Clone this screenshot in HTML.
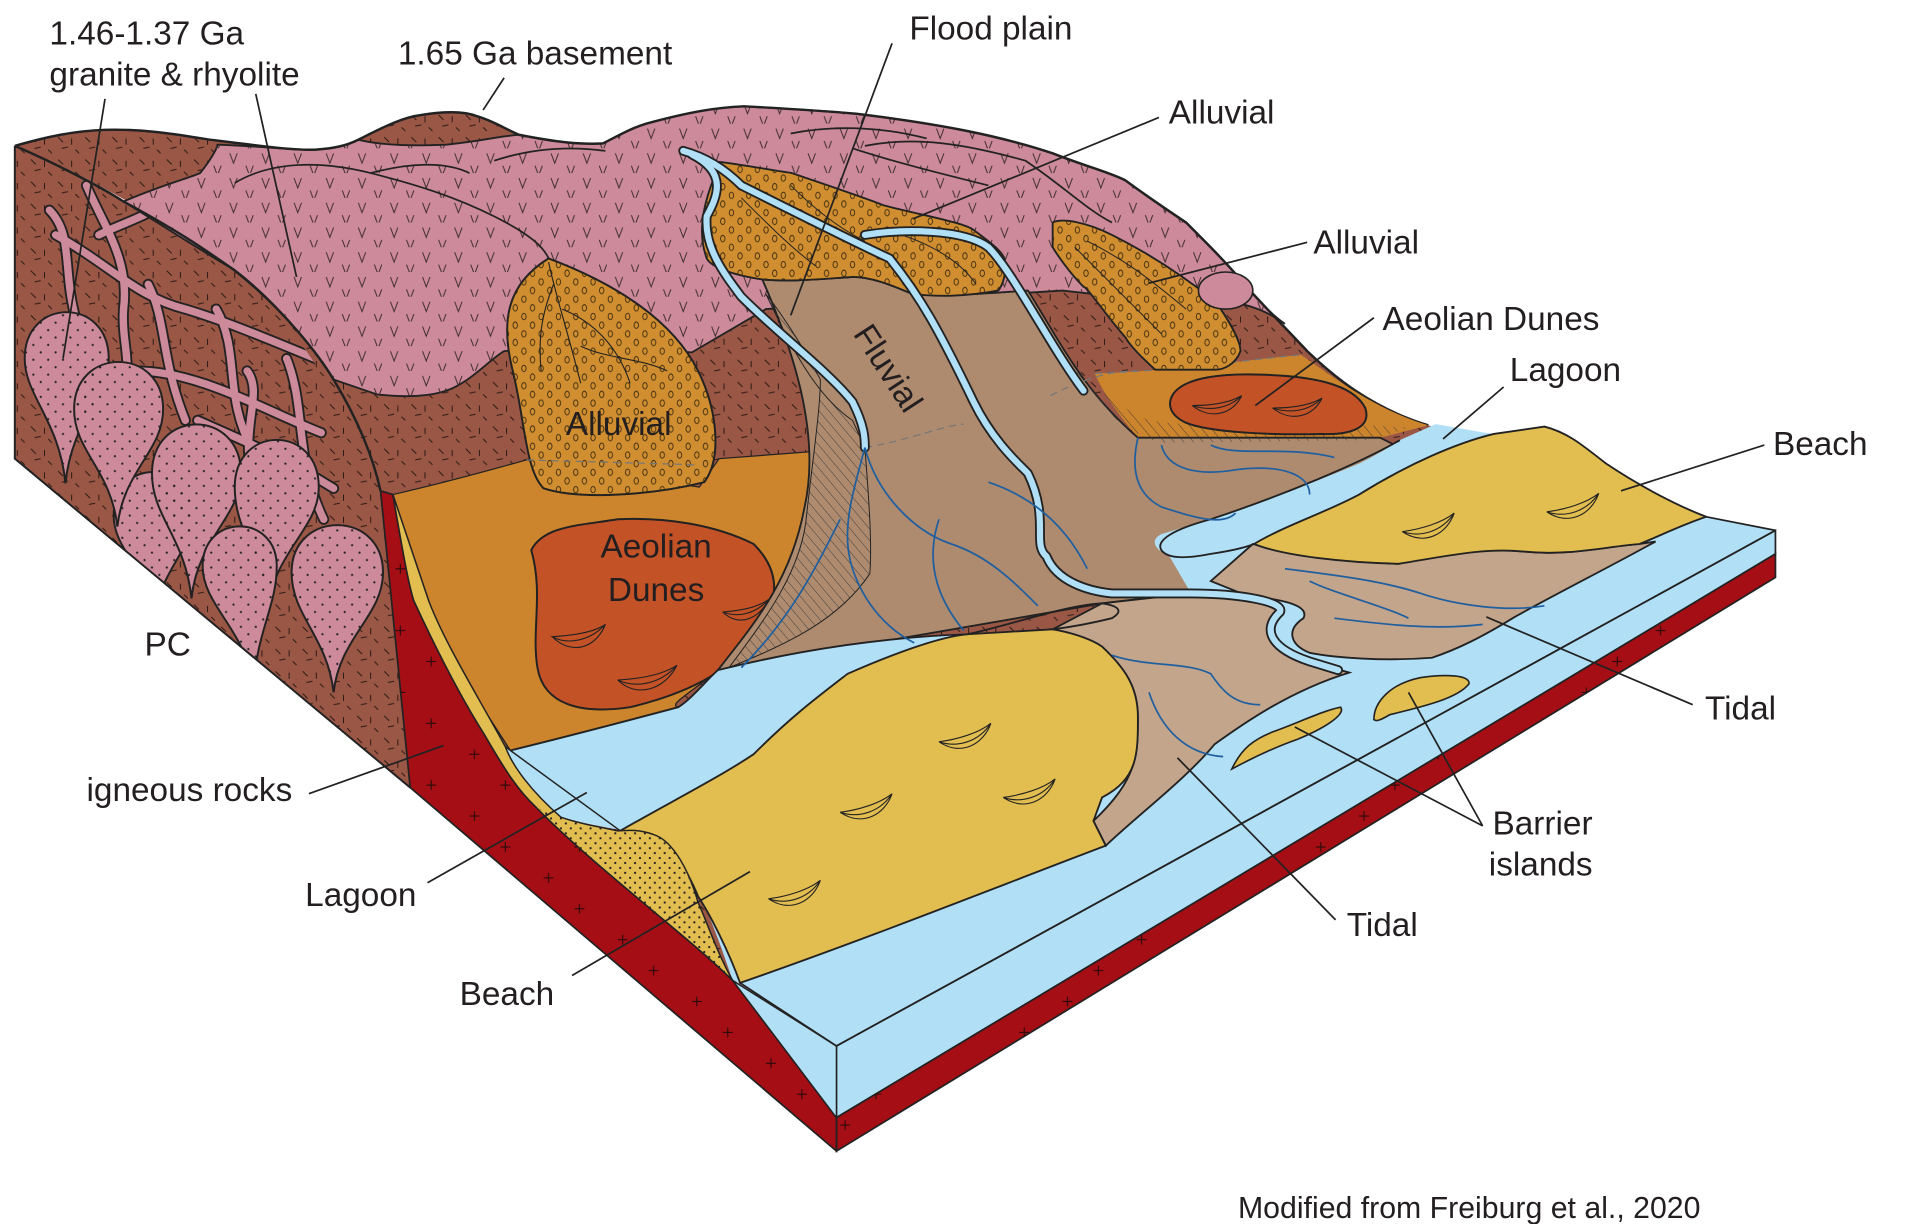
<!DOCTYPE html>
<html><head><meta charset="utf-8"><style>
html,body{margin:0;padding:0;background:#fff;width:1920px;height:1224px;overflow:hidden}
svg{display:block}
text{font-family:"Liberation Sans",Arial,sans-serif;fill:#231f20}
</style></head><body>
<svg width="1920" height="1224" viewBox="0 0 1554 990" preserveAspectRatio="none" xmlns="http://www.w3.org/2000/svg">
<defs>
<pattern id="vp" width="26" height="20" patternUnits="userSpaceOnUse">
<path d="M4,4 L7,12 L10,4 M17,14 L20,22 L23,14" fill="none" stroke="#3a2a2a" stroke-width="0.8"/>
</pattern>
<pattern id="tk" width="22" height="18" patternUnits="userSpaceOnUse">
<path d="M3,3 L7,7 M14,4 L14,9 M6,12 L11,11 M17,13 L20,16" fill="none" stroke="#2a1a14" stroke-width="0.8"/>
</pattern>
<pattern id="al" width="14" height="14" patternUnits="userSpaceOnUse">
<ellipse cx="4" cy="4" rx="1.8" ry="2.6" fill="none" stroke="#3a2a10" stroke-width="0.7"/>
<ellipse cx="11" cy="11" rx="1.8" ry="2.6" fill="none" stroke="#3a2a10" stroke-width="0.7"/>
</pattern>
<pattern id="gd" width="12" height="12" patternUnits="userSpaceOnUse">
<circle cx="3" cy="3" r="0.9" fill="#222"/><circle cx="9" cy="9" r="0.9" fill="#222"/>
</pattern>
<pattern id="sd" width="8" height="8" patternUnits="userSpaceOnUse">
<circle cx="2" cy="2" r="0.9" fill="#222"/><circle cx="6" cy="6" r="0.9" fill="#222"/>
</pattern>
<pattern id="ht" width="6" height="6" patternUnits="userSpaceOnUse" patternTransform="rotate(-40)">
<line x1="0" y1="0" x2="0" y2="6" stroke="#333" stroke-width="0.7"/>
</pattern>
<pattern id="rp" width="60" height="50" patternUnits="userSpaceOnUse">
<path d="M20,10 h8 M24,6 v8 M45,35 h8 M49,31 v8" stroke="#2a0a0a" stroke-width="0.9"/>
</pattern>
</defs>

<!-- left face -->
<path d="M12,118 C40,130 80,150 100,163 C150,190 170,205 189,218 C230,250 260,290 270,307 C290,340 302,370 308,397 L332,637 L12,371 Z" fill="#9b5746"/>
<path d="M12,118 C40,130 80,150 100,163 C150,190 170,205 189,218 C230,250 260,290 270,307 C290,340 302,370 308,397 L332,637 L12,371 Z" fill="url(#tk)"/>
<!-- veins -->
<g fill="none" stroke-linecap="round">
<g stroke="#222" stroke-width="9">
<path d="M40,170 C60,190 50,220 62,260"/><path d="M70,150 C85,185 105,210 100,250 C98,280 110,300 96,320"/>
<path d="M45,190 C90,215 110,240 150,250 C190,262 230,280 280,300"/>
<path d="M120,230 C135,260 130,290 150,340"/><path d="M110,300 C160,300 210,330 260,350"/>
<path d="M175,250 C195,285 180,320 205,365"/><path d="M232,290 C248,330 238,370 262,420"/>
<path d="M160,340 C205,360 230,370 270,395"/><path d="M200,300 C215,320 190,350 208,400"/>
<path d="M80,190 C100,180 120,175 140,160"/>
</g>
<g stroke="#cd8a9b" stroke-width="6">
<path d="M40,170 C60,190 50,220 62,260"/><path d="M70,150 C85,185 105,210 100,250 C98,280 110,300 96,320"/>
<path d="M45,190 C90,215 110,240 150,250 C190,262 230,280 280,300"/>
<path d="M120,230 C135,260 130,290 150,340"/><path d="M110,300 C160,300 210,330 260,350"/>
<path d="M175,250 C195,285 180,320 205,365"/><path d="M232,290 C248,330 238,370 262,420"/>
<path d="M160,340 C205,360 230,370 270,395"/><path d="M200,300 C215,320 190,350 208,400"/>
<path d="M80,190 C100,180 120,175 140,160"/>
</g>
</g>
<!-- granite blobs -->
<g fill="#cd8a9b" stroke="#222" stroke-width="1.6">
<path d="M20,290 C20,240 88,240 88,290 C88,320 58,340 53,391 C48,340 20,320 20,290 Z"/>
<path d="M92,417 C92,370 156,370 156,417 C156,445 130,460 125,500 C120,460 92,445 92,417 Z"/>
<path d="M60,331 C60,280 132,280 132,331 C132,365 100,380 95,426 C90,380 60,365 60,331 Z"/>
<path d="M123,383 C123,330 195,330 195,383 C195,418 160,435 155,484 C150,435 123,418 123,383 Z"/>
<path d="M190,394 C190,343 258,343 258,394 C258,428 222,445 216,495 C210,445 190,428 190,394 Z"/>
<path d="M164,458 C164,415 224,415 224,458 C224,490 208,510 205,556 C200,510 164,490 164,458 Z"/>
<path d="M236,463 C236,412 310,412 310,463 C310,498 275,515 270,560 C265,515 236,498 236,463 Z"/>
</g>
<g fill="url(#gd)">
<path d="M20,290 C20,240 88,240 88,290 C88,320 58,340 53,391 C48,340 20,320 20,290 Z"/>
<path d="M92,417 C92,370 156,370 156,417 C156,445 130,460 125,500 C120,460 92,445 92,417 Z"/>
<path d="M60,331 C60,280 132,280 132,331 C132,365 100,380 95,426 C90,380 60,365 60,331 Z"/>
<path d="M123,383 C123,330 195,330 195,383 C195,418 160,435 155,484 C150,435 123,418 123,383 Z"/>
<path d="M190,394 C190,343 258,343 258,394 C258,428 222,445 216,495 C210,445 190,428 190,394 Z"/>
<path d="M164,458 C164,415 224,415 224,458 C224,490 208,510 205,556 C200,510 164,490 164,458 Z"/>
<path d="M236,463 C236,412 310,412 310,463 C310,498 275,515 270,560 C265,515 236,498 236,463 Z"/>
</g>
<!-- cover below bottom edge -->
<path d="M0,371 L12,371 L340,644 L340,700 L0,700 Z" fill="#fff"/>
<path d="M12,118 L12,371 L332,637" fill="none" stroke="#222" stroke-width="1.6"/>

<!-- land base brown -->
<path id="land" d="M12,118 C40,110 60,106 85,105 C120,104 150,110 170,113 C210,118 240,122 256,121 C270,120 280,118 290,113 C310,103 325,95 341,93 C360,90 376,90 386,94 C400,98 410,105 420,109 C450,115 470,117 488,116 C500,110 510,104 523,100 C560,90 580,87 602,86 C640,88 670,90 693,92 C760,100 810,110 852,124 C880,135 900,140 911,146 C930,160 945,170 960,180 C980,200 995,215 1009,232 C1030,255 1045,270 1058,284 C1080,305 1110,330 1156,344 L1381,418 L599,795 L593,793 C560,760 480,700 434,653 C400,610 360,540 335,486 C325,450 315,420 308,397 C290,350 250,270 189,218 C150,190 80,145 12,118 Z" fill="#9b5746"/>
<path d="M12,118 C40,110 60,106 85,105 C120,104 150,110 170,113 C210,118 240,122 256,121 C270,120 280,118 290,113 C310,103 325,95 341,93 C360,90 376,90 386,94 C400,98 410,105 420,109 C450,115 470,117 488,116 C500,110 510,104 523,100 C560,90 580,87 602,86 C640,88 670,90 693,92 C760,100 810,110 852,124 C880,135 900,140 911,146 C930,160 945,170 960,180 C980,200 995,215 1009,232 C1030,255 1045,270 1058,284 C1080,305 1110,330 1156,344 L1381,418 L599,795 L593,793 C560,760 480,700 434,653 C400,610 360,540 335,486 C325,450 315,420 308,397 C290,350 250,270 189,218 C150,190 80,145 12,118 Z" fill="url(#tk)"/>

<!-- pink top -->
<path d="M100,163 C130,150 150,145 162,140 C170,130 176,120 176,117 C210,118 240,122 256,121 C270,120 280,118 290,113 C310,118 335,118 361,117 C390,114 405,110 420,109 C450,115 470,117 488,116 C500,110 510,104 523,100 C560,90 580,87 602,86 C640,88 670,90 693,92 C760,100 810,110 852,124 C880,135 900,140 911,146 C930,160 945,170 960,180 C980,200 995,215 1009,232 C1020,245 1030,255 1040,262 C1010,240 980,242 940,244 L860,235 L620,250 L560,285 L480,280 L408,284 C397,290 380,310 361,316 C350,320 330,322 305,319 L270,307 C240,260 200,225 189,218 C150,195 120,175 100,163 Z" fill="#cd8a9b" stroke="#222" stroke-width="1.5"/>
<path d="M100,163 C130,150 150,145 162,140 C170,130 176,120 176,117 C210,118 240,122 256,121 C270,120 280,118 290,113 C310,118 335,118 361,117 C390,114 405,110 420,109 C450,115 470,117 488,116 C500,110 510,104 523,100 C560,90 580,87 602,86 C640,88 670,90 693,92 C760,100 810,110 852,124 C880,135 900,140 911,146 C930,160 945,170 960,180 C980,200 995,215 1009,232 C1020,245 1030,255 1040,262 C1010,240 980,242 940,244 L860,235 L620,250 L560,285 L480,280 L408,284 C397,290 380,310 361,316 C350,320 330,322 305,319 L270,307 C240,260 200,225 189,218 C150,195 120,175 100,163 Z" fill="url(#vp)"/>
<!-- ridge outline -->
<path d="M12,118 C40,110 60,106 85,105 C120,104 150,110 170,113 C210,118 240,122 256,121 C270,120 280,118 290,113 C310,103 325,95 341,93 C360,90 376,90 386,94 C400,98 410,105 420,109 C450,115 470,117 488,116 C500,110 510,104 523,100 C560,90 580,87 602,86 C640,88 670,90 693,92 C760,100 810,110 852,124 C880,135 900,140 911,146 C930,160 945,170 960,180 C980,200 995,215 1009,232 C1030,255 1045,270 1058,284 C1080,305 1110,330 1156,344" fill="none" stroke="#222" stroke-width="2"/>
<path d="M12,118 C40,130 80,150 100,163 C150,190 170,205 189,218 C230,250 260,290 270,307 C290,340 302,370 308,397" fill="none" stroke="#222" stroke-width="2"/>
<!-- pink internal lines -->
<g fill="none" stroke="#222" stroke-width="1.4">
<path d="M190,148 C220,130 260,130 300,140 C340,150 370,160 400,175 C430,190 440,200 444,209"/>
<path d="M300,140 C330,132 360,130 380,140"/>
<path d="M400,130 C430,120 460,118 490,122"/>
<path d="M640,108 C680,100 720,104 750,112 M700,118 C740,110 780,116 830,130 C860,150 880,170 900,180"/>
<path d="M690,120 C720,130 760,140 800,150"/>
</g>

<!-- orange band left -->
<path d="M318,400 C340,395 380,385 426,372 L566,394 L582,371 L661,365 L700,362 L704,464 C680,500 640,520 581,542 C560,560 540,570 549,572 C500,585 450,600 413,607 C390,570 360,530 347,486 C335,450 325,420 318,400 Z" fill="#cc852d" stroke="#222" stroke-width="1"/>
<!-- orange band right -->
<path d="M886,302 C950,300 1000,292 1053,287 C1080,305 1110,330 1156,344 L1117,354 L921,354 C905,335 893,318 886,302 Z" fill="#cc852d"/>
<path d="M886,302 C950,300 1000,292 1053,287" fill="none" stroke="#777" stroke-width="1" stroke-dasharray="6,4"/>

<!-- left alluvial fan -->
<path d="M444,209 C410,230 405,260 415,300 C425,340 425,380 440,395 C470,405 530,400 570,390 C585,370 580,330 565,300 C545,260 500,230 444,209 Z" fill="#d08e30" stroke="#222" stroke-width="1.6"/>
<path d="M444,209 C410,230 405,260 415,300 C425,340 425,380 440,395 C470,405 530,400 570,390 C585,370 580,330 565,300 C545,260 500,230 444,209 Z" fill="url(#al)"/>
<g fill="none" stroke="#222" stroke-width="0.9">
<path d="M444,212 C450,240 460,270 470,310 M455,250 C480,260 500,280 510,310 M470,280 C490,290 520,290 540,300 M448,230 C440,250 435,270 438,300"/>
</g>
<path d="M426,372 L566,376" stroke="#777" stroke-width="1" stroke-dasharray="6,4"/>

<!-- left aeolian dunes -->
<path d="M430,445 C440,425 470,425 500,420 C540,418 580,425 610,440 C630,460 630,480 620,500 C600,540 560,560 510,572 C470,578 440,570 435,540 C430,510 440,480 430,445 Z" fill="#c45227" stroke="#222" stroke-width="1.6"/>

<!-- fluvial -->
<path d="M617,226 C640,228 660,226 690,224 C705,224 720,230 739,238 C760,240 790,238 832,235 C860,280 877,316 921,354 L1117,354 L1133,362 L1133,460 L892,488 L581,542 C610,505 640,470 651,411 C665,350 641,281 617,226 Z" fill="#ae8b6f" stroke="#222" stroke-width="1.5"/>
<path d="M620,238 C640,280 660,320 690,340 L700,362 C703,400 706,440 704,464 C680,500 640,520 590,540 C620,500 650,460 653,415 C658,370 664,330 664,307 C650,280 630,250 620,238 Z" fill="url(#ht)" stroke="#222" stroke-width="0.8"/>
<path d="M870,300 C890,330 910,350 940,358 L1110,356 L1140,346 C1080,340 1000,350 930,340 C905,330 885,310 870,300 Z" fill="url(#ht)"/>
<path d="M700,362 C740,355 760,345 780,343 M850,320 C880,305 900,300 920,300" fill="none" stroke="#777" stroke-width="1" stroke-dasharray="6,4"/>

<!-- right fan -->
<path d="M852,180 C860,176 880,180 900,190 C930,205 960,225 984,244 C995,260 1004,275 1004,284 C1000,295 990,299 984,299 L935,299 C925,290 915,280 911,273 C895,255 880,232 877,232 C865,220 855,205 852,200 Z" fill="#d08e30" stroke="#222" stroke-width="1.5"/>
<path d="M852,180 C860,176 880,180 900,190 C930,205 960,225 984,244 C995,260 1004,275 1004,284 C1000,295 990,299 984,299 L935,299 C925,290 915,280 911,273 C895,255 880,232 877,232 C865,220 855,205 852,200 Z" fill="url(#al)"/>
<ellipse cx="992" cy="235" rx="22" ry="15" fill="#cd8a9b" stroke="#222" stroke-width="1.3"/>
<path d="M870,200 C890,220 910,240 940,270 M880,195 C910,210 930,225 960,250" fill="none" stroke="#222" stroke-width="0.8"/>

<!-- right dunes -->
<path d="M950,318 C960,305 990,302 1020,303 C1060,304 1095,310 1105,330 C1110,345 1095,352 1070,351 C1030,352 980,350 960,342 C945,335 945,325 950,318 Z" fill="#c45227" stroke="#222" stroke-width="1.6"/>

<!-- upper central fan -->
<path d="M582,131 C600,133 620,137 641,140 C670,150 700,160 715,166 C750,175 780,180 788,186 C800,195 810,202 813,209 C815,220 812,230 808,235 C780,240 760,240 739,238 C720,230 705,224 690,224 C660,226 640,228 617,226 C590,222 575,215 572,209 C565,190 568,170 577,146 Z" fill="#d08e30" stroke="#222" stroke-width="1.5"/>
<path d="M582,131 C600,133 620,137 641,140 C670,150 700,160 715,166 C750,175 780,180 788,186 C800,195 810,202 813,209 C815,220 812,230 808,235 C780,240 760,240 739,238 C720,230 705,224 690,224 C660,226 640,228 617,226 C590,222 575,215 572,209 C565,190 568,170 577,146 Z" fill="url(#al)"/>
<path d="M600,160 C620,180 640,200 660,215 M640,150 C660,170 680,185 700,195 M730,190 C760,200 780,215 790,230" fill="none" stroke="#222" stroke-width="0.8"/>

<!-- big blue water -->
<path d="M413,607 C450,598 500,585 549,572 C560,565 570,552 581,542 C650,525 720,515 783,513 L852,509 L892,488 L964,480 L946,449 C935,445 930,437 940,432 C980,420 1040,400 1100,375 C1120,365 1130,358 1133,356 L1162,343 C1180,346 1195,349 1209,351 L1381,418 L1437,429 L677,846 L599,795 L593,793 C575,740 560,700 529,675 C505,672 480,668 454,661 C430,640 415,620 409,604 Z" fill="#b1dff6"/>
<!-- right face -->
<path d="M677,846 L1437,429 L1437,448 L677,904 Z" fill="#b1dff6" stroke="#222" stroke-width="1.4"/>
<path d="M677,904 L1437,448 L1437,467 L677,931 Z" fill="#a50e14" stroke="#222" stroke-width="1.4"/>
<path d="M677,904 L1437,448 L1437,467 L677,931 Z" fill="url(#rp)"/>
<path d="M1381,418 L1437,429" fill="none" stroke="#222" stroke-width="1.4"/>

<!-- middle tidal -->
<path d="M852,509 L892,488 L964,480 C1000,482 1040,487 1036,495 C1020,510 1030,525 1060,535 L1092,544 C1040,560 1000,590 983,602 C960,630 920,660 895,684 L885,664 C921,630 921,610 921,580 C921,555 910,540 892,523 Z" fill="#c3a58b" stroke="#222" stroke-width="1.5"/>
<!-- right tidal -->
<path d="M1014,440 C1050,448 1100,455 1132,456 C1170,448 1200,443 1232,446 C1270,450 1300,442 1327,440 L1340,438 C1300,460 1260,480 1226,499 C1200,515 1180,525 1159,532 C1120,535 1080,532 1060,528 C1045,522 1040,510 1055,500 C1060,490 1040,485 1010,482 L980,470 Z" fill="#c3a58b" stroke="#222" stroke-width="1.5"/>
<!-- right beach -->
<path d="M1015,440 C1040,425 1072,415 1100,400 C1140,375 1180,358 1209,351 L1250,345 C1270,350 1283,362 1300,375 C1330,395 1360,410 1381,418 C1360,425 1340,435 1327,440 C1300,442 1270,450 1232,446 C1200,443 1170,450 1132,456 C1090,455 1040,450 1015,440 Z" fill="#e2bd50" stroke="#222" stroke-width="1.5"/>
<path d="M1133,356 C1100,375 1040,400 980,420 C950,428 935,437 940,445 C945,452 960,452 980,448 C1000,445 1010,442 1015,440" fill="none" stroke="#222" stroke-width="1.5"/>
<!-- left big beach -->
<path d="M502,672 C540,650 580,630 610,610 C640,580 660,565 686,545 C720,530 760,515 783,513 L852,509 C870,512 885,518 892,523 C910,540 921,555 921,580 C921,610 921,630 892,645 L885,664 L895,684 C800,720 700,760 599,795 C590,770 575,740 565,725 C555,700 540,680 520,675 C510,672 505,672 502,672 Z" fill="#e2bd50" stroke="#222" stroke-width="1.5"/>
<path d="M413,607 C450,598 500,585 549,572 C560,565 570,552 581,542 C650,525 720,515 783,513 C820,505 860,490 892,488 C905,490 910,494 900,500 C880,505 860,508 852,509" fill="none" stroke="#222" stroke-width="1.5"/>
<!-- barrier islands -->
<path d="M997,622 C1005,605 1015,598 1030,592 C1050,585 1070,575 1085,572 C1090,578 1070,590 1050,598 C1030,605 1010,615 997,622 Z" fill="#e2bd50" stroke="#222" stroke-width="1.3"/>
<path d="M1112,582 C1112,568 1125,553 1150,548 C1170,545 1190,546 1189,553 C1180,565 1150,572 1125,578 C1118,582 1114,584 1112,582 Z" fill="#e2bd50" stroke="#222" stroke-width="1.3"/>

<!-- red igneous (on top) -->
<path d="M308,397 L318,400 C325,440 330,470 335,486 C360,540 380,575 392,594 C410,625 420,640 434,653 C480,700 560,760 593,793 L677,904 L677,931 L332,637 Z" fill="#a50e14" stroke="#222" stroke-width="1.4"/>
<path d="M308,397 L318,400 C325,440 330,470 335,486 C360,540 380,575 392,594 C410,625 420,640 434,653 C480,700 560,760 593,793 L677,904 L677,931 L332,637 Z" fill="url(#rp)"/>
<!-- yellow wedge -->
<path d="M318,400 C325,440 330,470 335,486 C360,540 380,575 392,594 C410,625 420,640 434,653 C480,700 560,760 593,793 C580,770 572,745 565,730 C558,705 545,680 529,675 C515,670 505,672 500,672 C480,668 465,665 454,661 C430,640 415,620 409,604 C385,560 360,520 347,486 C335,450 325,420 318,400 Z" fill="#e2bd50" stroke="#222" stroke-width="1.2"/>
<path d="M434,653 C480,700 560,760 593,793 C580,770 572,745 565,730 C558,705 545,680 529,675 C515,670 505,672 500,672 C480,668 465,665 454,661 Z" fill="url(#sd)"/>
<path d="M409,604 L502,672" stroke="#222" stroke-width="1.2"/>
<!-- blue front triangle -->
<path d="M593,793 L677,846 L677,904 Z" fill="#b1dff6" stroke="#222" stroke-width="1.2"/>
<path d="M599,795 L677,846 L1437,429" fill="none" stroke="#222" stroke-width="1.4"/>

<!-- rivers -->
<g fill="none" stroke-linecap="round" stroke-linejoin="round">
<g stroke="#222" stroke-width="8">
<path d="M553,122 C575,128 590,140 600,150 C640,170 700,200 720,209 C745,240 760,267 788,325 C805,360 830,380 832,383 C850,420 835,440 847,450 C855,470 880,478 900,480 L964,480 C1000,480 1040,486 1036,495 C1020,510 1030,525 1060,535 L1083,542"/>
<path d="M560,125 C590,140 580,160 572,175 C570,200 585,220 600,240 C630,270 670,300 690,325 C700,345 700,355 700,362"/>
<path d="M700,190 C730,185 780,185 800,200 C820,220 850,280 877,316"/>
</g>
<g stroke="#b1dff6" stroke-width="5">
<path d="M553,122 C575,128 590,140 600,150 C640,170 700,200 720,209 C745,240 760,267 788,325 C805,360 830,380 832,383 C850,420 835,440 847,450 C855,470 880,478 900,480 L964,480 C1000,480 1040,486 1036,495 C1020,510 1030,525 1060,535 L1083,542"/>
<path d="M560,125 C590,140 580,160 572,175 C570,200 585,220 600,240 C630,270 670,300 690,325 C700,345 700,355 700,362"/>
<path d="M700,190 C730,185 780,185 800,200 C820,220 850,280 877,316"/>
</g>
</g>
<!-- distributary channels -->
<g fill="none" stroke="#1f5f9f" stroke-width="1.4">
<path d="M700,362 C690,400 680,430 690,460 C700,490 720,510 740,520"/>
<path d="M700,362 C710,400 740,430 770,440 C800,450 820,470 840,490"/>
<path d="M680,420 C660,460 640,500 600,540"/>
<path d="M760,420 C750,450 755,480 780,510"/>
<path d="M800,390 C830,400 860,420 880,460"/>
<path d="M921,354 C915,380 920,400 940,410 C970,420 990,425 1000,415"/>
<path d="M940,360 C945,380 970,385 1000,380 C1040,375 1060,385 1060,400"/>
<path d="M980,360 C1000,370 1040,360 1080,370"/>
<path d="M900,530 C930,540 960,535 980,545 C990,560 1000,570 1020,570"/>
<path d="M930,560 C940,590 960,610 990,612"/>
<path d="M1040,460 C1080,465 1120,470 1150,480 C1180,490 1220,495 1250,490"/>
<path d="M1080,500 C1120,505 1160,510 1200,505"/>
<path d="M1060,470 C1080,480 1120,490 1140,500"/>
</g>
<!-- dune crescents -->
<g fill="none" stroke="#222" stroke-width="0.9">
<path d="M447,515 C460,522 478,518 490,505 C480,512 462,514 447,515 Z M447,515 C462,530 482,525 490,505"/>
<path d="M500,550 C515,557 535,553 548,538 C536,546 518,549 500,550 Z M500,550 C515,565 538,558 548,538"/>
<path d="M585,495 C598,500 612,496 622,485 C612,492 598,494 585,495 Z M585,495 C598,508 615,500 622,485"/>
<path d="M965,328 C980,333 995,330 1005,320 C995,326 980,328 965,328 Z M965,328 C980,340 998,335 1005,320"/>
<path d="M1030,330 C1045,335 1060,332 1070,322 C1060,328 1045,330 1030,330 Z M1030,330 C1045,342 1063,337 1070,322"/>
<path d="M760,600 C775,605 792,600 802,585 C792,593 775,598 760,600 Z M760,600 C778,612 796,602 802,585"/>
<path d="M680,657 C695,662 712,657 722,642 C712,650 695,655 680,657 Z M680,657 C698,669 716,659 722,642"/>
<path d="M812,645 C827,650 844,645 854,630 C844,638 827,643 812,645 Z M812,645 C830,657 848,647 854,630"/>
<path d="M622,727 C637,732 654,727 664,712 C654,720 637,725 622,727 Z M622,727 C640,739 658,729 664,712"/>
<path d="M1135,430 C1150,435 1167,430 1177,415 C1167,423 1150,428 1135,430 Z M1135,430 C1153,442 1171,432 1177,415"/>
<path d="M1252,414 C1267,419 1284,414 1294,399 C1284,407 1267,412 1252,414 Z M1252,414 C1270,426 1288,416 1294,399"/>
</g>

<!-- leader lines -->
<g stroke="#222" stroke-width="1.4" fill="none">
<path d="M85,80 L51,290"/>
<path d="M207,76 L240,224"/>
<path d="M408,63 L391,89"/>
<path d="M722,35 L640,255"/>
<path d="M938,95 L739,177"/>
<path d="M1058,196 L930,229"/>
<path d="M1112,257 L1016,328"/>
<path d="M1217,313 L1168,355"/>
<path d="M1428,360 L1312,397"/>
<path d="M1370,570 L1203,499"/>
<path d="M1200,668 L1140,560 M1200,668 L1048,588"/>
<path d="M1081,744 L953,613"/>
<path d="M250,642 L359,603"/>
<path d="M346,714 L475,641"/>
<path d="M463,789 L607,705"/>
</g>

<!-- labels -->
<g font-size="27">
<text x="40" y="36">1.46-1.37 Ga</text>
<text x="40" y="69">granite &amp; rhyolite</text>
<text x="322" y="52">1.65 Ga basement</text>
<text x="736" y="32">Flood plain</text>
<text x="946" y="100">Alluvial</text>
<text x="1063" y="205">Alluvial</text>
<text x="1119" y="267">Aeolian Dunes</text>
<text x="1222" y="308">Lagoon</text>
<text x="1435" y="368">Beach</text>
<text x="1380" y="582">Tidal</text>
<text x="1208" y="675">Barrier</text>
<text x="1205" y="708">islands</text>
<text x="1090" y="757">Tidal</text>
<text x="372" y="813">Beach</text>
<text x="247" y="733">Lagoon</text>
<text x="70" y="648">igneous rocks</text>
<text x="117" y="530">PC</text>
<text x="458" y="352">Alluvial</text>
<text x="486" y="451">Aeolian</text>
<text x="492" y="486">Dunes</text>
<text x="0" y="0" transform="translate(690,270) rotate(57)">Fluvial</text>
</g>
<text x="1002" y="985" font-size="24.5">Modified from Freiburg et al., 2020</text>
</svg>
</body></html>
